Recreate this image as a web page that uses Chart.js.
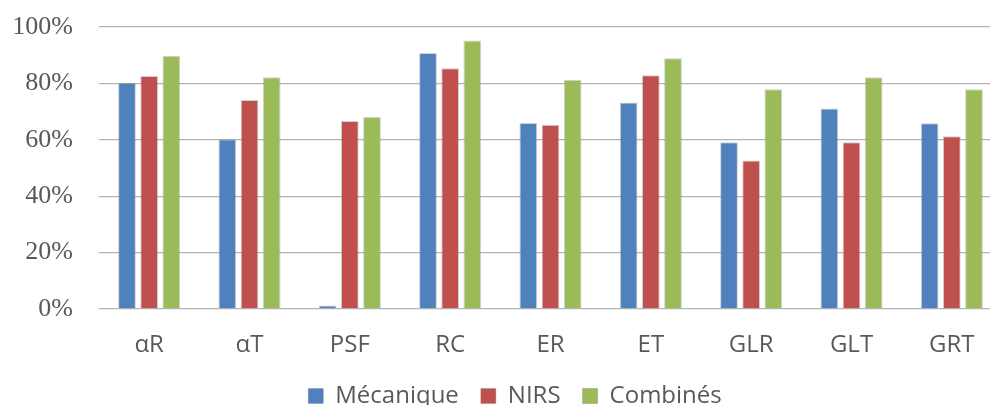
<!DOCTYPE html>
<html>
<head>
<meta charset="utf-8">
<script src="https://cdn.jsdelivr.net/npm/chart.js@4"></script>
<style>
  html, body { margin: 0; padding: 0; background: #fff; overflow: hidden; }
  #wrap { width: 1030px; height: 418px; }
</style>
</head>
<body>
<div id="wrap"><canvas id="bar-chart"></canvas></div>
<script>
// categories and series (percent)
var categories = ['αR', 'αT', 'PSF', 'RC', 'ER', 'ET', 'GLR', 'GLT', 'GRT'];
var mecanique = [80.2, 60.2, 1.2, 90.8, 66.0, 73.2, 59.1, 71.1, 65.9];
var nirs = [82.6, 74.1, 66.7, 85.4, 65.3, 82.9, 52.7, 59.1, 61.3];
var combines = [89.8, 82.2, 68.1, 95.2, 81.2, 88.9, 77.9, 82.2, 77.9];
var yTicks = [0, 20, 40, 60, 80, 100];

const ctx = document.getElementById("bar-chart");
const barChart = new Chart(ctx, {
    type: "bar",
    data: {
        labels: categories,
        datasets: [
            { label: 'Mécanique', data: mecanique, backgroundColor: '#4F81BD' },
            { label: 'NIRS', data: nirs, backgroundColor: '#C0504D' },
            { label: 'Combinés', data: combines, backgroundColor: '#9BBB59' }
        ]
    },
    options: {
        responsive: true,
        maintainAspectRatio: false,
        animation: false,
        datasets: {
            bar: {
                categoryPercentage: 0.663,
                barPercentage: 0.8,
                borderWidth: 1,
                borderColor: 'rgba(120,120,120,0.35)',
                borderSkipped: 'bottom'
            }
        },
        layout: {
            padding: { top: 27, left: 0, right: 0, bottom: 0 }
        },
        plugins: {
            tooltip: { enabled: false },
            legend: {
                position: 'bottom',
                labels: {
                    boxWidth: 15,
                    boxHeight: 15,
                    padding: 22,
                    color: '#595959',
                    font: { family: 'Open Sans', size: 24 }
                }
            }
        },
        scales: {
            x: {
                grid: { display: false, drawTicks: false },
                border: { display: false },
                afterFit: function (axis) {
                    axis.height = 53;
                    axis.paddingLeft = 0;
                    axis.paddingRight = 28;
                },
                ticks: {
                    padding: 24,
                    color: '#595959',
                    font: { family: 'Open Sans', size: 24, lineHeight: 1 }
                }
            },
            y: {
                min: 0,
                max: 100,
                afterBuildTicks: function (axis) {
                    axis.ticks = yTicks.map(function (v) { return { value: v }; });
                },
                afterFit: function (axis) {
                    axis.width = 99;
                    axis.paddingTop = 0;
                    axis.paddingBottom = 0;
                },
                grid: { color: '#b4b4b4', lineWidth: 1.3, drawTicks: false },
                border: { display: false },
                ticks: {
                    padding: 26,
                    color: '#595959',
                    font: { family: 'Liberation Serif', size: 26 },
                    callback: function (v) { return v + '%'; }
                }
            }
        }
    }
});
</script>
</body>
</html>
